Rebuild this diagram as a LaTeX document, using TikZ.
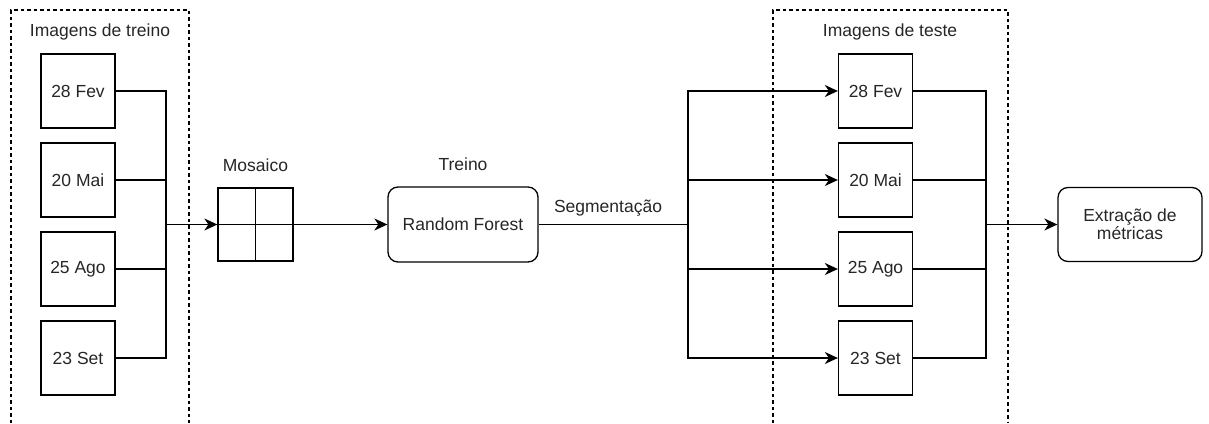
\documentclass[tikz,border=0pt]{standalone}
\usepackage{fontspec}
\setmainfont{Liberation Sans}
\usetikzlibrary{arrows.meta}
\begin{document}
\begin{tikzpicture}[x=1pt,y=-1pt,
  every node/.style={font=\fontsize{17.5}{20}\selectfont, text=black!85},
  imgbox/.style={draw, line width=1.3pt, minimum width=74pt, minimum height=74pt, inner sep=0pt},
  roundbox/.style={draw, line width=1.3pt, rounded corners=10pt, inner sep=0pt, align=center},
  conn/.style={line width=1.3pt},
  arr/.style={conn, -{Stealth[length=13pt,width=12pt,inset=4pt]}},
  group/.style={line width=1.2pt, dash pattern=on 3.5pt off 3pt},
  lbl/.style={inner sep=0pt}
]
\useasboundingbox (0,0) rectangle (1209,423);
% dashed groups
\draw[group] (11,423) -- (11,10) -- (189,10) -- (189,423);
\draw[group] (773,423) -- (773,10) -- (1008,10) -- (1008,423);
\node[lbl] (lt) at (100,32) {Imagens de treino};
\node[lbl] (rt) at (890,32) {Imagens de teste};
% training images
\node[imgbox] (l1) at (78,91) {28 Fev};
\node[imgbox] (l2) at (78,180) {20 Mai};
\node[imgbox] (l3) at (78,269) {25 Ago};
\node[imgbox] (l4) at (78,358) {23 Set};
% test images
\node[imgbox] (t1) at (875.5,91) {28 Fev};
\node[imgbox] (t2) at (875.5,180) {20 Mai};
\node[imgbox] (t3) at (875.5,269) {25 Ago};
\node[imgbox] (t4) at (875.5,358) {23 Set};
% mosaic
\node[draw, line width=1.3pt, minimum width=75pt, minimum height=73pt, inner sep=0pt] (mos) at (255.5,224.5) {};
\draw[conn] (mos.north) -- (mos.south);
\draw[conn] (mos.west) -- (mos.east);
\node[lbl] (mosl) at (255.5,165) {Mosaico};
% random forest
\node[roundbox, minimum width=150pt, minimum height=75pt] (rf) at (463,224.5) {Random Forest};
\node[lbl] (trl) at (463,164) {Treino};
\node[lbl] (segl) at (608,208) {Segmentação};
% extraction
\node[roundbox, minimum width=144pt, minimum height=74pt] (ext) at (1130,224.5) {Extração de\\[-2pt]métricas};
% connectors
\coordinate (busL) at (166,224.5);
\coordinate (busR) at (688,224.5);
\coordinate (busE) at (986,224.5);
\foreach \n in {l1,l2,l3,l4} {\draw[conn] (\n.east) -| (busL);}
\draw[arr] (busL) -- (mos.west);
\draw[arr] (mos.east) -- (rf.west);
\draw[conn] (rf.east) -- (busR);
\foreach \n in {t1,t2,t3,t4} {\draw[arr] (busR) |- (\n.west);}
\foreach \n in {t1,t2,t3,t4} {\draw[conn] (\n.east) -| (busE);}
\draw[arr] (busE) -- (ext.west);
\end{tikzpicture}
\end{document}
